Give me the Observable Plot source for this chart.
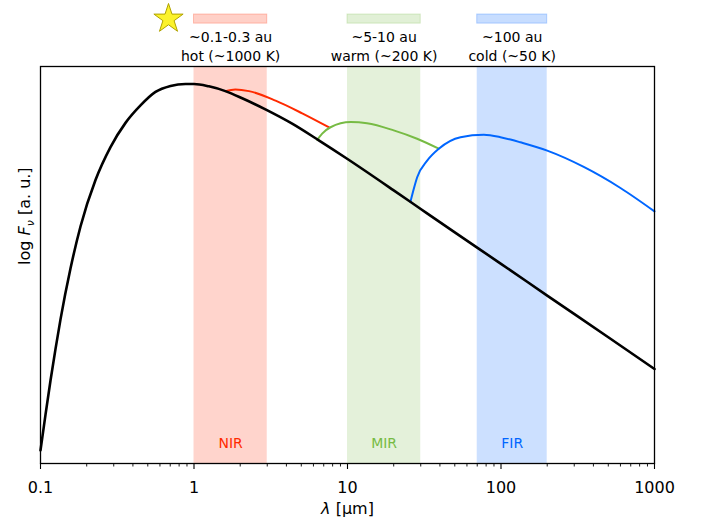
<!DOCTYPE html>
<html><head><meta charset="utf-8">
<script src="https://cdn.jsdelivr.net/npm/d3@7"></script>
<script src="https://cdn.jsdelivr.net/npm/@observablehq/plot@0.6"></script>
<style>body{margin:0;background:#fff} svg{display:block}</style>
</head><body><div id="chart"></div>
<script>
// ---- data ----
const starLambda = [0.1, 0.1078, 0.1162, 0.1252, 0.135, 0.1568, 0.1822, 0.2282, 0.2858, 0.3579, 0.4482, 0.5613, 0.7029, 0.8803, 1.0, 1.25, 1.6, 2.06, 2.92, 4.36, 6.5, 10, 20, 30, 50, 100, 200, 500, 1000];
const starFlux   = [0.33, 1.23, 2.09, 2.88, 3.63, 4.91, 5.97, 7.14, 7.97, 8.58, 9.02, 9.36, 9.51, 9.56, 9.56, 9.50, 9.38, 9.20, 8.92, 8.56, 8.14, 7.67, 6.88, 6.41, 5.82, 5.03, 4.23, 3.18, 2.38];
const nirLambda = [1.6, 1.86, 2.28, 3.4, 5.07, 7.55];
const nirFlux   = [9.38, 9.42, 9.38, 9.14, 8.82, 8.47];
const mirLambda = [6.35, 6.84, 7.75, 10.5, 13.4, 20, 28.4, 39.3];
const mirFlux   = [8.15, 8.31, 8.47, 8.60, 8.57, 8.39, 8.18, 7.93];
const firLambda = [25.7, 27.04, 28.44, 33.04, 39.34, 54.48, 77.3, 99.2, 115.3, 133.9, 200, 346, 600, 1000];
const firFlux   = [6.59, 6.92, 7.21, 7.63, 7.93, 8.22, 8.28, 8.22, 8.16, 8.09, 7.88, 7.47, 6.94, 6.35];
const bandNames = ["NIR", "MIR", "FIR"];
const bandLo = [1, 10, 70];
const bandHi = [3, 30, 200];
const bandDistance = ["~0.1-0.3 au", "~5-10 au", "~100 au"];
const bandTemperature = ["hot (~1000 K)", "warm (~200 K)", "cold (~50 K)"];
const majorTicks = [0.1, 1, 10, 100, 1000];
const tickLabels = ["0.1", "1", "10", "100", "1000"];
const xLabel = "λ [μm]";
const yLabel = "log Fν [a. u.]";

// ---- styles ----
const bandColors = ["#ff2a00", "#77bb44", "#0066ff"];
const minorTicks = [0.1, 1, 10, 100].flatMap(d => [2,3,4,5,6,7,8,9].map(k => d * k));

const toRows = (xs, ys) => xs.map((x, i) => ({lambda: x, flux: ys[i]}));
const star = toRows(starLambda, starFlux);
const nir = toRows(nirLambda, nirFlux);
const mir = toRows(mirLambda, mirFlux);
const fir = toRows(firLambda, firFlux);
const bands = bandNames.map((name, i) => ({name, lo: bandLo[i], hi: bandHi[i], mid: Math.sqrt(bandLo[i] * bandHi[i]), dist: bandDistance[i], temp: bandTemperature[i]}));

const chart = Plot.plot({
  width: 702, height: 522,
  marginLeft: 40, marginRight: 48, marginTop: 66, marginBottom: 59,
  style: {fontFamily: "DejaVu Sans", fontSize: "16px", color: "#000", background: "#fff", overflow: "visible"},
  x: {type: "log", domain: [0.1, 1000]},
  y: {domain: [0, 10], axis: null},
  color: {domain: bandNames, range: bandColors},
  marks: [
    Plot.rect(bands, {x1: "lo", x2: "hi", fill: "name", fillOpacity: 0.2}),
    Plot.rect(bands, {x1: "lo", x2: "hi", y1: () => 11.08, y2: () => 11.31, fill: "name", fillOpacity: 0.22, stroke: "name", strokeOpacity: 0.25, strokeWidth: 1}),
    Plot.text(bands, {x: "mid", y: () => 10.74, text: "dist", fontSize: 14}),
    Plot.text(bands, {x: "mid", y: () => 10.24, text: "temp", fontSize: 14}),
    Plot.dot(bands.slice(0, 1), {x: "lo", dx: -25.5, y: () => 11.2, symbol: "star", r: 9.2, fill: "#fbf22c", stroke: "#b0a200", strokeWidth: 1}),
    Plot.text(bands, {x: "mid", text: "name", fill: "name", frameAnchor: "bottom", dy: -16, fontSize: 14}),
    Plot.line(nir, {x: "lambda", y: "flux", stroke: bandColors[0], strokeWidth: 2, curve: "monotone-x"}),
    Plot.line(mir, {x: "lambda", y: "flux", stroke: bandColors[1], strokeWidth: 2, curve: "monotone-x"}),
    Plot.line(fir, {x: "lambda", y: "flux", stroke: bandColors[2], strokeWidth: 2, curve: "monotone-x"}),
    Plot.line(star, {x: "lambda", y: "flux", stroke: "black", strokeWidth: 2.6, curve: "monotone-x"}),
    Plot.frame({stroke: "black", strokeWidth: 1.3}),
    Plot.axisX({ticks: minorTicks, tickSize: 3.5, tickFormat: () => "", strokeWidth: 0.9}),
    Plot.axisX({ticks: majorTicks, tickSize: 6, tickPadding: 12, tickFormat: d => tickLabels[majorTicks.indexOf(d)], fontSize: 16, strokeWidth: 1.1, label: null}),
    Plot.text([xLabel], {frameAnchor: "bottom", dy: 50, text: d => d, fontSize: 16}),
    Plot.text([yLabel], {frameAnchor: "left", dx: -16, rotate: -90, text: d => d, fontSize: 16})
  ]
});
document.getElementById("chart").append(chart);

// rich text (italic symbols, subscript)
function enrich(plain, parts) {
  d3.select(chart).selectAll("text").filter(function () { return this.textContent === plain; }).each(function () {
    const t = d3.select(this);
    t.text(null);
    for (const p of parts) {
      const s = t.append("tspan").text(p.text);
      if (p.italic) s.attr("font-style", "italic");
      if (p.sub) s.attr("font-size", "11px").attr("dy", "4px");
      if (p.unsub) s.attr("dy", "-4px");
    }
  });
}
enrich(xLabel, [{text: "λ", italic: true}, {text: " [μm]"}]);
enrich(yLabel, [{text: "log "}, {text: "F", italic: true}, {text: "ν", italic: true, sub: true}, {text: " [a. u.]", unsub: true}]);
</script>
</body></html>
